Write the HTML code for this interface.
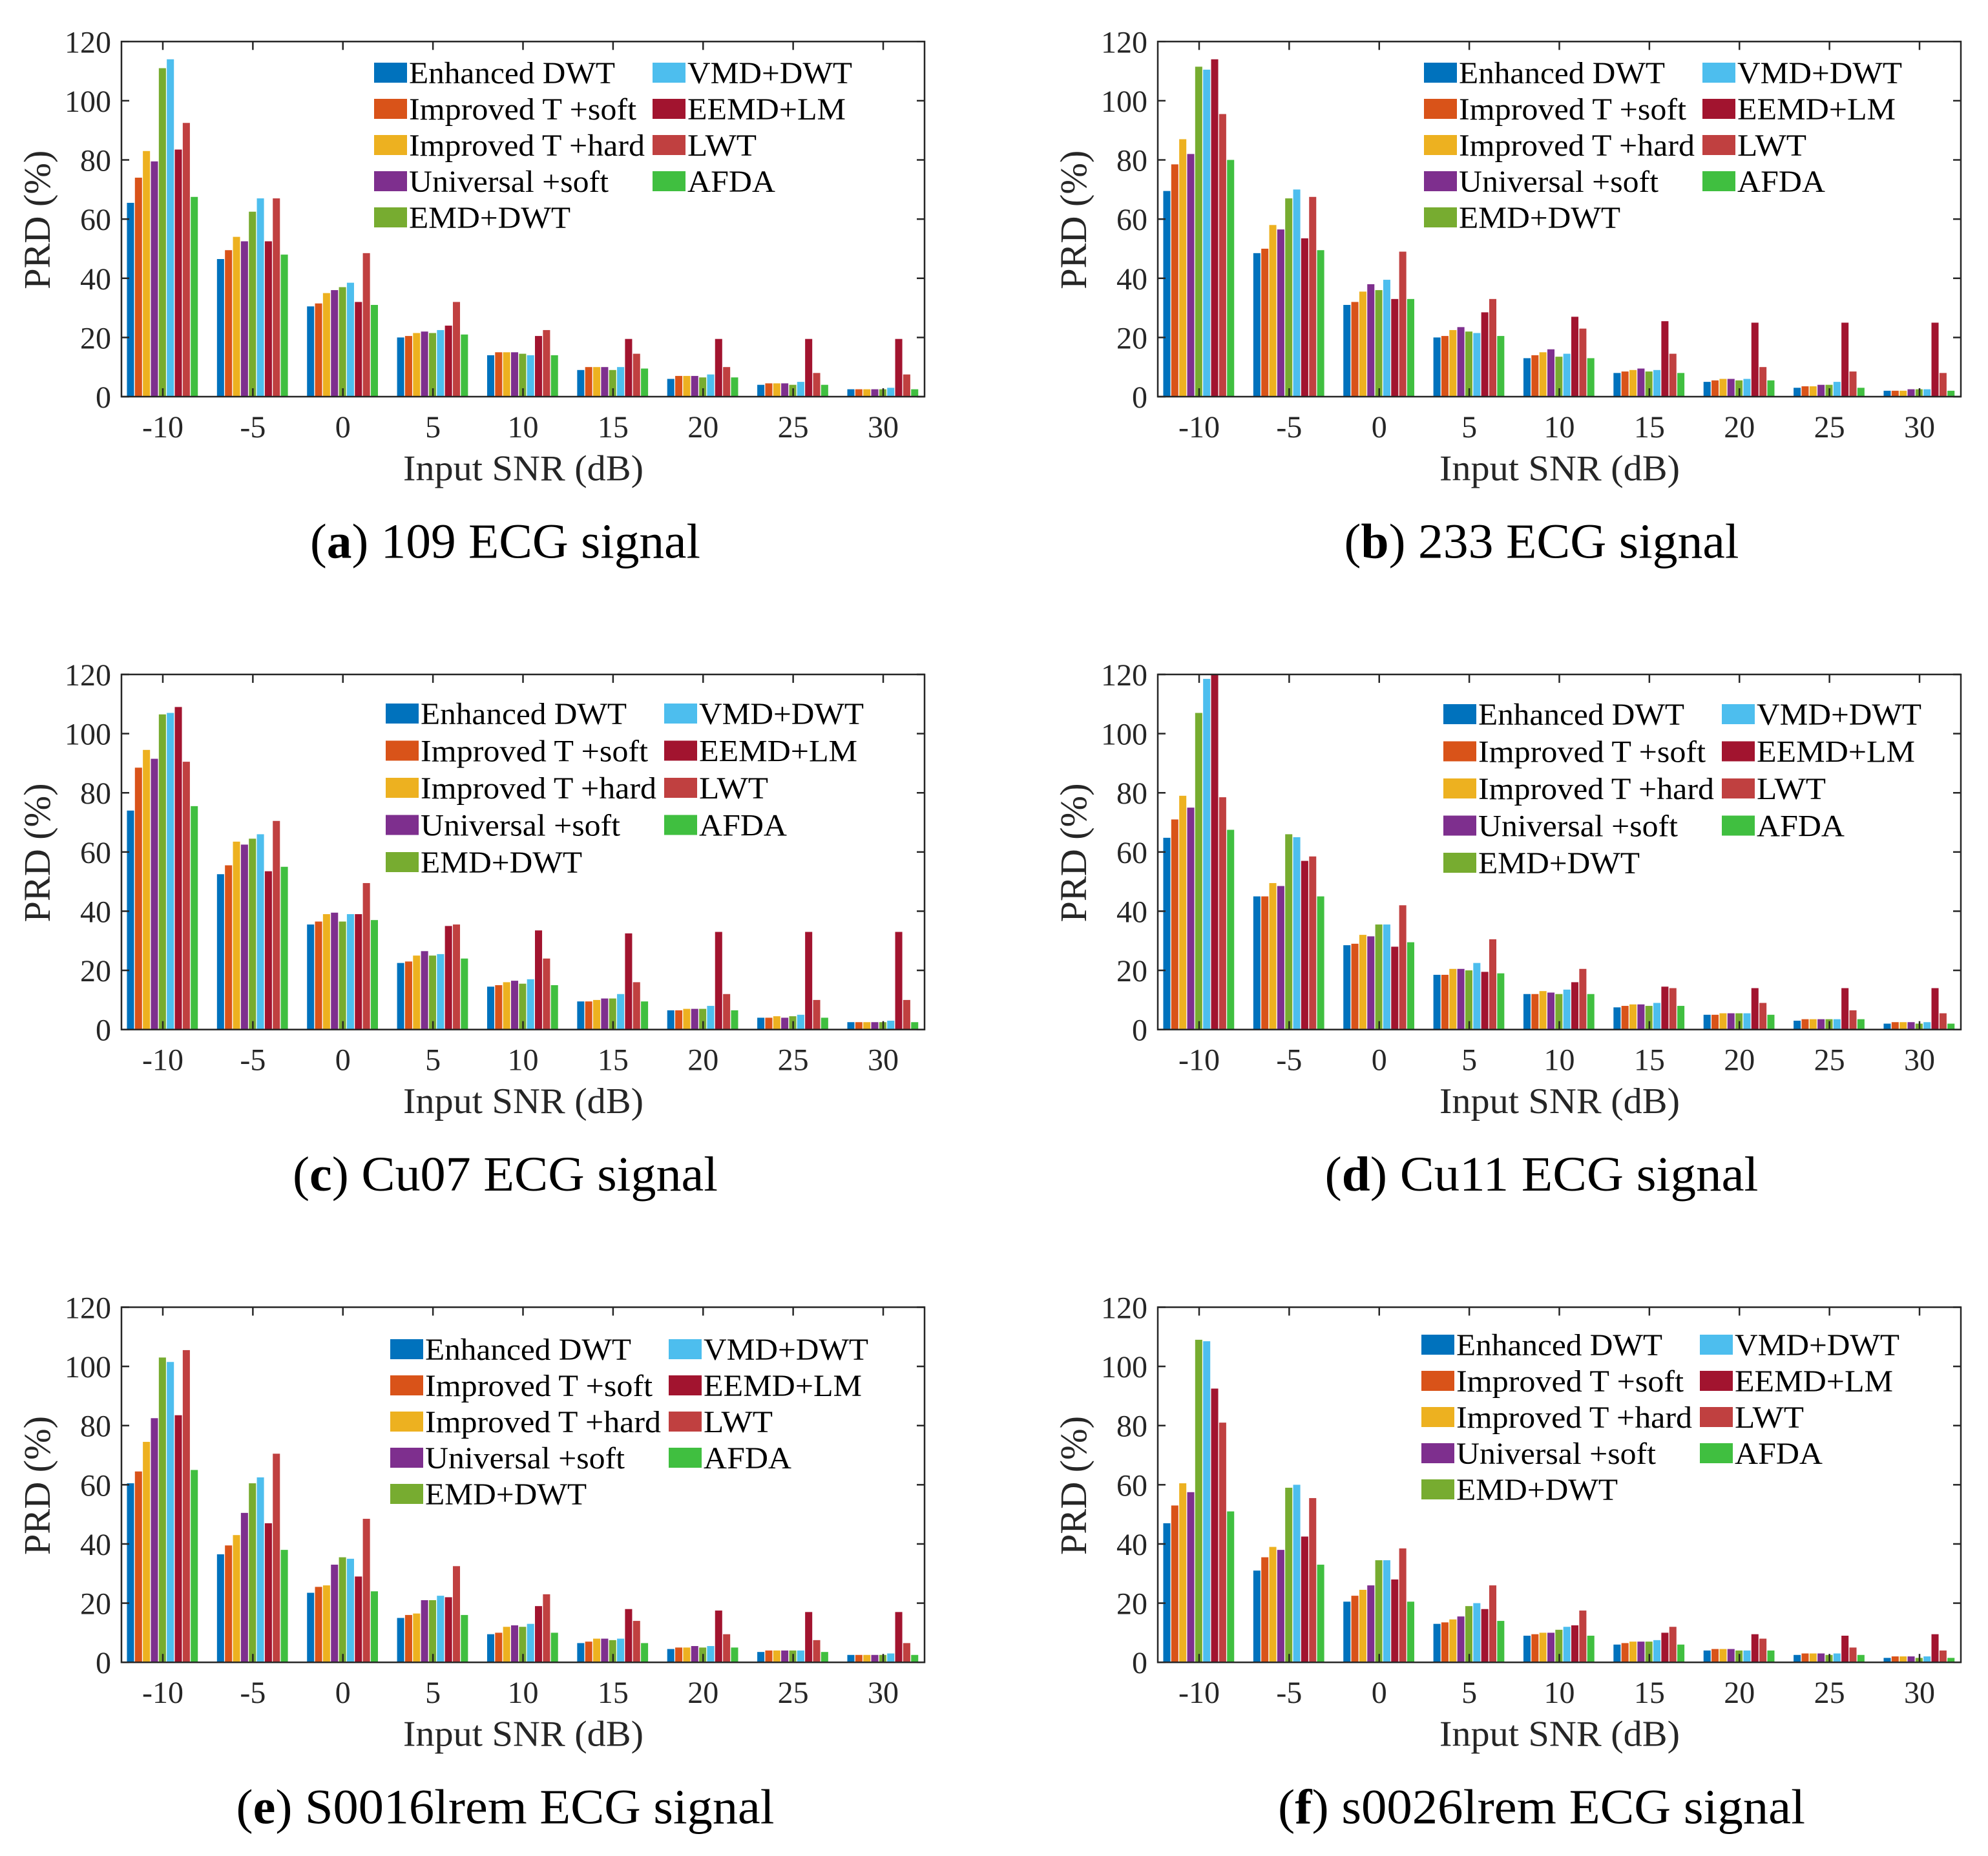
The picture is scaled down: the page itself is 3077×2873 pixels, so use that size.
<!DOCTYPE html>
<html><head><meta charset="utf-8"><title>PRD comparison</title>
<style>
html,body{margin:0;padding:0;background:#fff;}
svg{display:block;}
text{font-family:"Liberation Serif",serif;}
</style></head>
<body>
<svg id="fig" width="3077" height="2873" viewBox="0 0 3077 2873" xmlns="http://www.w3.org/2000/svg"></svg>
<script>
const categories = ["-10","-5","0","5","10","15","20","25","30"];
const seriesNames = ["Enhanced DWT","Improved T +soft","Improved T +hard","Universal +soft","EMD+DWT","VMD+DWT","EEMD+LM","LWT","AFDA"];
const seriesColors = ["#0072BD","#D95319","#EDB120","#7E2F8E","#77AC30","#4DBEEE","#A2142F","#C04040","#40BF40"];
const yTicks = [0,20,40,60,80,100,120];

// each row = one category, values in series order
const valuesA = [
[65.5,74,83,79.5,111,114,83.5,92.5,67.5],
[46.5,49.5,54,52.5,62.5,67,52.5,67,48],
[30.5,31.5,35,36,37,38.5,32,48.5,31],
[20,20.5,21.5,22,21.5,22.5,24,32,21],
[14,15,15,15,14.5,14,20.5,22.5,14],
[9,10,10,10,9,10,19.5,14.5,9.5],
[6,7,7,7,6.5,7.5,19.5,10,6.5],
[4,4.5,4.5,4.5,4,5,19.5,8,4],
[2.5,2.5,2.5,2.5,2.5,3,19.5,7.5,2.5]];
const valuesB = [
[69.5,78.5,87,82,111.5,110.5,114,95.5,80],
[48.5,50,58,56.5,67,70,53.5,67.5,49.5],
[31,32,35.5,38,36,39.5,33,49,33],
[20,20.5,22.5,23.5,22,21.5,28.5,33,20.5],
[13,14,15,16,13.5,14.5,27,23,13],
[8,8.5,9,9.5,8.5,9,25.5,14.5,8],
[5,5.5,6,6,5.5,6,25,10,5.5],
[3,3.5,3.5,4,4,5,25,8.5,3],
[2,2,2,2.5,2.5,2.5,25,8,2]];
const valuesC = [
[74,88.5,94.5,91.5,106.5,107,109,90.5,75.5],
[52.5,55.5,63.5,62.5,64.5,66,53.5,70.5,55],
[35.5,36.5,39,39.5,36.5,39,39,49.5,37],
[22.5,23,25,26.5,25,25.5,35,35.5,24],
[14.5,15,16,16.5,15.5,17,33.5,24,15],
[9.5,9.5,10,10.5,10.5,12,32.5,16,9.5],
[6.5,6.5,7,7,7,8,33,12,6.5],
[4,4,4.5,4,4.5,5,33,10,4],
[2.5,2.5,2.5,2.5,2.5,3,33,10,2.5]];
const valuesD = [
[64.8,71,79,75,107,118.5,120,78.5,67.5],
[45,45,49.5,48.5,66,65,57,58.5,45],
[28.5,29,32,31.5,35.5,35.5,28,42,29.5],
[18.5,18.5,20.5,20.5,20,22.5,19.5,30.5,19],
[12,12,13,12.5,12,13.5,16,20.5,12],
[7.5,8,8.5,8.5,8,9,14.5,14,8],
[5,5,5.5,5.5,5.5,5.5,14,9,5],
[3,3.5,3.5,3.5,3.5,3.5,14,6.5,3.5],
[2,2.5,2.5,2.5,2,2.5,14,5.5,2]];
const valuesE = [
[60.5,64.5,74.5,82.5,103,101.5,83.5,105.5,65],
[36.5,39.5,43,50.5,60.5,62.5,47,70.5,38],
[23.5,25.5,26,33,35.5,35,29,48.5,24],
[15,16,16.5,21,21,22.5,22,32.5,16],
[9.5,10,12,12.5,12,13,19,23,10],
[6.5,7,8,8,7.5,8,18,14,6.5],
[4.5,5,5,5.5,5,5.5,17.5,9.5,5],
[3.5,4,4,4,4,4,17,7.5,3.5],
[2.5,2.5,2.5,2.5,2.5,3,17,6.5,2.5]];
const valuesF = [
[47,53,60.5,57.5,109,108.5,92.5,81,51],
[31,35.5,39,38,59,60,42.5,55.5,33],
[20.5,22.5,24.5,26,34.5,34.5,28,38.5,20.5],
[13,13.5,14.5,15.5,19,20,18,26,14],
[9,9.5,10,10,11,12,12.5,17.5,9],
[6,6.5,7,7,7,7.5,10,12,6],
[4,4.5,4.5,4.5,4,4,9.5,8,4],
[2.5,3,3,3,2.5,3,9,5,2.5],
[1.5,2,2,2,1.5,2,9.5,4,1.5]];

const captionsLabel = ["a","b","c","d","e","f"];
const captionsText = [" 109 ECG signal"," 233 ECG signal"," Cu07 ECG signal"," Cu11 ECG signal"," S0016lrem ECG signal"," s0026lrem ECG signal"];
const allValues = [valuesA,valuesB,valuesC,valuesD,valuesE,valuesF];

const NS = "http://www.w3.org/2000/svg";
const svg = document.getElementById("fig");
function mk(tag, attrs, parent){ const e=document.createElementNS(NS,tag); for(const k in attrs) e.setAttribute(k,attrs[k]); (parent||svg).appendChild(e); return e; }

// layout (not data)
const panelLayout = [
 {x0:188, y0:64.3, legX:579, legY:97, capW:604, legStep:56},
 {x0:1792,y0:64.3, legX:2204,legY:97, capW:611, legStep:56},
 {x0:188, y0:1044, legX:597, legY:1089,capW:658, legStep:57.5},
 {x0:1792,y0:1044, legX:2234,legY:1090,capW:671, legStep:57.5},
 {x0:188, y0:2023.5,legX:604,legY:2073,capW:833, legStep:56},
 {x0:1792,y0:2023.5,legX:2200,legY:2066,capW:816, legStep:56}
];
const W=1243, H=549.7, legCol2=431, legTextOff=54;
const legTextW = [319,352,365,309,250,255,245,107,136];

allValues.forEach((vals, p) => {
  const L = panelLayout[p];
  const g = mk("g",{});
  
  
  const n = categories.length;
  const step = (W - 2*64)/(n-1);
  const xScale = i => L.x0 + 64 + i*step;
  const yScale = v => L.y0 + H - Math.min(v,120)/120*H;
  const slot = step*0.797/seriesNames.length;
  // bars
  vals.forEach((row,i) => {
    row.forEach((v,s) => {
      const cx = xScale(i) - step*0.797/2 + slot*s;
      const r = mk("rect",{x:cx.toFixed(2), y:yScale(v).toFixed(2), width:(slot-1.3).toFixed(2), height:(L.y0+H-yScale(v)).toFixed(2), fill:seriesColors[s]}, g);
      
      
    });
  });
  // axes box
  const box = mk("rect",{x:L.x0,y:L.y0,width:W,height:H,fill:"none",stroke:"#262626","stroke-width":2.5},g);
  
  
  // y ticks
  yTicks.forEach(t => {
    const y = yScale(t);
    mk("line",{x1:L.x0,x2:L.x0+12,y1:y,y2:y,stroke:"#262626","stroke-width":2.5},g);
    mk("line",{x1:L.x0+W-12,x2:L.x0+W,y1:y,y2:y,stroke:"#262626","stroke-width":2.5},g);
    const tl = mk("text",{x:L.x0-16,y:y+17,"font-size":48,fill:"#262626","text-anchor":"end"},g);
    tl.textContent = t;
    
    
  });
  // x ticks
  categories.forEach((c,i) => {
    const x = xScale(i);
    mk("line",{x1:x,x2:x,y1:L.y0+H,y2:L.y0+H-13,stroke:"#262626","stroke-width":2.5},g);
    mk("line",{x1:x,x2:x,y1:L.y0,y2:L.y0+13,stroke:"#262626","stroke-width":2.5},g);
    const tl = mk("text",{x:x,y:L.y0+H+63,"font-size":48,fill:"#262626","text-anchor":"middle"},g);
    tl.textContent = c;
    
    
  });
  // axis titles
  const xt = mk("text",{x:L.x0+622,y:L.y0+679,"font-size":56,fill:"#262626","text-anchor":"middle",textLength:372,lengthAdjust:"spacingAndGlyphs"},g);
  xt.textContent = "Input SNR (dB)";
  
  
  const yt = mk("text",{x:0,y:0,"font-size":58,fill:"#262626","text-anchor":"middle",textLength:215,lengthAdjust:"spacingAndGlyphs",transform:`translate(${L.x0-111},${L.y0+276}) rotate(-90)`},g);
  yt.textContent = "PRD (%)";
  
  
  // legend
  const leg = mk("g",{},g);
  
  
  seriesNames.forEach((nm,s) => {
    const col = s<5 ? 0 : 1;
    const row = s<5 ? s : s-5;
    const lx = L.legX + col*legCol2;
    const ly = L.legY + row*L.legStep;
    const e = mk("g",{},leg);
    
    
    mk("rect",{x:lx,y:ly,width:51,height:31,fill:seriesColors[s]},e);
    const t = mk("text",{x:lx+legTextOff,y:ly+32,"font-size":48,fill:"#000",textLength:legTextW[s],lengthAdjust:"spacingAndGlyphs"},e);
    t.textContent = nm;
  });
  // caption
  const cap = mk("text",{x:L.x0+594,y:L.y0+799,"font-size":76,fill:"#000","text-anchor":"middle",textLength:L.capW,lengthAdjust:"spacingAndGlyphs"},svg);
  
  
  const t1 = document.createElementNS(NS,"tspan"); t1.textContent="("; cap.appendChild(t1);
  const t2 = document.createElementNS(NS,"tspan"); t2.setAttribute("font-weight","bold"); t2.textContent=captionsLabel[p]; cap.appendChild(t2);
  const t3 = document.createElementNS(NS,"tspan"); t3.textContent=")"+captionsText[p]; cap.appendChild(t3);
});
</script>
</body></html>
